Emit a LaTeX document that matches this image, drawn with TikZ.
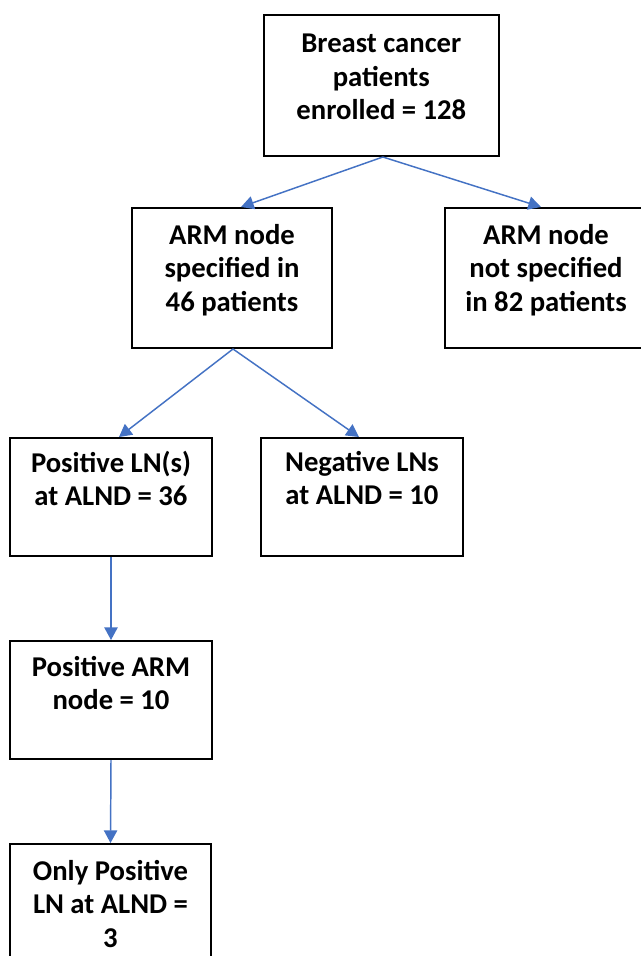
\documentclass[tikz,border=0pt]{standalone}
\usepackage{fontspec}
\setmainfont{Carlito}
\usetikzlibrary{arrows.meta,calc}
\definecolor{arrowblue}{RGB}{68,114,196}
\tikzset{
  x=0.75pt, y=-0.75pt,
  box/.style={draw=black, line width=1.5pt, rectangle, inner sep=0pt, fill=white},
  boxtext/.style={anchor=north, inner sep=0pt, align=center,
    font=\fontsize{21.5}{25}\selectfont\bfseries},
  flow/.style={draw=arrowblue, line width=1.1pt,
    -{Triangle[length=9.5pt,width=10pt]}}
}
\begin{document}
\begin{tikzpicture}
\useasboundingbox (0,0) rectangle (640,956);
\fill[white] (0,0) rectangle (640,956);
% boxes
\node[box, minimum width=176pt, minimum height=105.75pt, anchor=north west] (top) at (263,14) {};
\node[box, minimum width=150pt, minimum height=105pt, anchor=north west] (spec) at (131,207) {};
\node[box, minimum width=151.5pt, minimum height=105pt, anchor=north west] (nspec) at (444,207) {};
\node[box, minimum width=151.5pt, minimum height=88.5pt, anchor=north west] (pos) at (9,437) {};
\node[box, minimum width=151.5pt, minimum height=88.5pt, anchor=north west] (neg) at (260,437) {};
\node[box, minimum width=151.5pt, minimum height=88.5pt, anchor=north west] (arm) at (9,640) {};
\node[box, minimum width=150.75pt, minimum height=88.5pt, anchor=north west] (only) at (9,843) {};
% texts
\node[boxtext] (ttop) at ($(top.north)+(0,20)$) {Breast cancer\\patients\\enrolled = 128};
\node[boxtext] (tspec) at ($(spec.north)+(0,17)$) {ARM node\\specified in\\46 patients};
\node[boxtext] (tnspec) at ($(nspec.north)+(0,17)$) {ARM node\\not specified\\in 82 patients};
\node[boxtext] (tpos) at ($(pos.north)+(0,14)$) {Positive LN(s)\\at ALND = 36};
\node[boxtext] (tneg) at ($(neg.north)+(0,14)$) {Negative LNs\\at ALND = 10};
\node[boxtext] (tarm) at ($(arm.north)+(0,16)$) {Positive ARM\\node = 10};
\node[boxtext] (tonly) at ($(only.north)+(0,17)$) {Only Positive\\LN at ALND =\\3};
% connectors
\draw[flow] ($(top.south)+(1.5,0)$) -- ($(spec.north)+(9,0)$);
\draw[flow] ($(top.south)+(1.5,0)$) -- ($(nspec.north)+(-5,0)$);
\draw[flow] ($(spec.south)+(1,0)$) -- ($(pos.north)+(8,0)$);
\draw[flow] ($(spec.south)+(1,0)$) -- ($(neg.north)+(-3,0)$);
\draw[flow] (pos.south) -- (arm.north);
\draw[flow] (arm.south) -- (only.north);
\end{tikzpicture}
\end{document}
